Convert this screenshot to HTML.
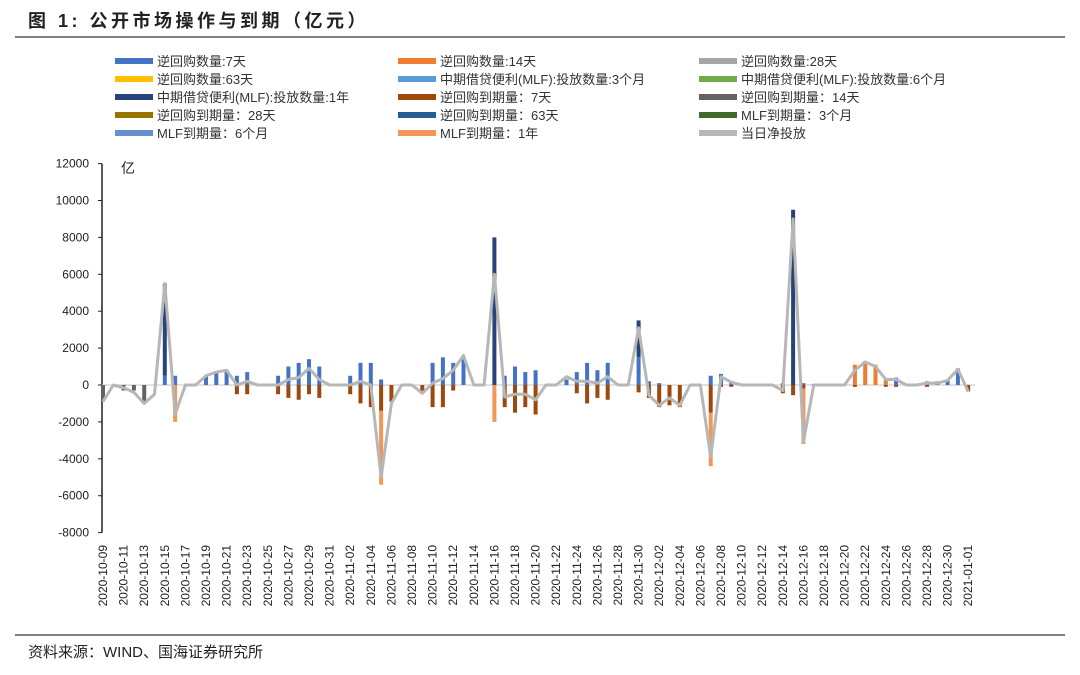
<!DOCTYPE html>
<html><head><meta charset="utf-8"><style>
body{margin:0;background:#fff;}
svg text{font-family:"Liberation Sans","Noto Sans CJK SC",sans-serif;}
</style></head><body>
<svg id="c" width="1080" height="670" xmlns="http://www.w3.org/2000/svg">
<text x="28" y="27" font-size="18" font-weight="bold" fill="#222" letter-spacing="3.5">图 1: 公开市场操作与到期（亿元）</text>
<line x1="15" y1="37" x2="1065" y2="37" stroke="#555" stroke-width="1.5"/>
<line x1="15" y1="635" x2="1065" y2="635" stroke="#555" stroke-width="1.5"/>
<text x="28" y="657" font-size="15" fill="#222">资料来源：WIND、国海证券研究所</text>
<g id="legend"></g>
<g id="axes"></g>
<g id="bars"></g>
<g id="line"></g>
</svg>
<script>
const dates=[];(function(){let d=new Date(Date.UTC(2020,9,9));for(let i=0;i<85;i++){dates.push(d.toISOString().slice(0,10));d.setUTCDate(d.getUTCDate()+1);}})();
const yTicks=[12000,10000,8000,6000,4000,2000,0,-2000,-4000,-6000,-8000];
const inject7=[0,0,0,0,0,0,500,500,0,0,500,650,800,500,700,0,0,500,1000,1200,1400,1000,0,0,500,1200,1200,300,0,0,0,0,1200,1500,1200,1500,0,0,0,500,1000,700,800,0,0,300,700,1200,800,1200,0,0,1500,200,100,0,0,0,0,500,600,150,50,0,0,0,100,0,100,50,50,0,0,0,0,0,0,400,0,0,200,200,300,900,0];
const inject14=[0,0,0,0,0,0,0,0,0,0,0,0,0,0,0,0,0,0,0,0,0,0,0,0,0,0,0,0,0,0,0,0,0,0,0,0,0,0,0,0,0,0,0,0,0,0,0,0,0,0,0,0,0,0,0,0,0,0,0,0,0,0,0,0,0,0,0,0,0,0,0,0,0,1100,1300,1100,300,0,0,0,0,0,0,0,0];
const mlf1y=[0,0,0,0,0,0,5000,0,0,0,0,0,0,0,0,0,0,0,0,0,0,0,0,0,0,0,0,0,0,0,0,0,0,0,0,0,0,0,8000,0,0,0,0,0,0,0,0,0,0,0,0,0,2000,0,0,0,0,0,0,0,0,0,0,0,0,0,0,9500,0,0,0,0,0,0,0,0,0,0,0,0,0,0,0,0,0];
const mature7=[0,0,0,0,0,0,0,0,0,0,0,0,0,-500,-500,0,0,-500,-700,-800,-500,-700,0,0,-500,-1000,-1200,-1400,-900,0,0,-400,-1200,-1200,-300,0,0,0,0,-1200,-1500,-1200,-1600,0,0,0,-450,-1000,-700,-800,0,0,-400,-700,-1200,-1100,-1200,0,0,-1500,-100,-100,-50,0,0,0,-450,-550,-200,0,0,0,0,-100,0,0,-100,-100,0,0,-100,0,0,0,-350];
const mature14=[-900,0,-300,-300,-900,0,0,0,0,0,0,0,0,0,0,0,0,0,0,0,0,0,0,0,0,0,0,0,0,0,0,0,0,0,0,0,0,0,0,0,0,0,0,0,0,0,0,0,0,0,0,0,0,0,0,0,0,0,0,0,0,0,0,0,0,0,0,0,0,0,0,0,0,0,0,0,0,0,0,0,0,0,0,0,0];
const mlfMat1y=[0,0,0,0,0,0,0,-2000,0,0,0,0,0,0,0,0,0,0,0,0,0,0,0,0,0,0,0,-4000,0,0,0,0,0,0,0,0,0,0,-2000,0,0,0,0,0,0,0,0,0,0,0,0,0,0,0,0,0,0,0,0,-2900,0,0,0,0,0,0,0,0,-3000,0,0,0,0,0,0,0,0,0,0,0,0,0,0,0,0];
const netLine=[-900,0,-150,-400,-1000,-500,5500,-1600,0,0,500,700,800,0,200,0,0,0,300,400,900,300,0,0,0,200,0,-5000,-1000,0,0,-450,100,350,800,1600,0,0,6000,-650,-500,-500,-800,0,0,450,200,200,100,450,0,0,3100,-550,-1100,-700,-1100,0,0,-3900,450,150,0,0,0,0,-300,9000,-3100,0,0,0,0,800,1250,1000,300,300,0,0,100,100,250,850,-350];
const NS="http://www.w3.org/2000/svg";
const svg=document.getElementById('c');
function el(t,a,p){const e=document.createElementNS(NS,t);for(const k in a)e.setAttribute(k,a[k]);p.appendChild(e);return e;}
const x0=103,dx=10.3,yZero=385,ppu=369/20000;
const X=i=>x0+dx*i, Y=v=>yZero-v*ppu;
const legItems=[["逆回购数量:7天","#4472C4"],["逆回购数量:14天","#ED7D31"],["逆回购数量:28天","#A5A5A5"],["逆回购数量:63天","#FFC000"],["中期借贷便利(MLF):投放数量:3个月","#5B9BD5"],["中期借贷便利(MLF):投放数量:6个月","#70AD47"],["中期借贷便利(MLF):投放数量:1年","#264478"],["逆回购到期量：7天","#9E480E"],["逆回购到期量：14天","#636363"],["逆回购到期量：28天","#997300"],["逆回购到期量：63天","#255E91"],["MLF到期量：3个月","#43682B"],["MLF到期量：6个月","#698ED0"],["MLF到期量：1年","#F1975A"],["当日净投放","#B7B7B7"]];
const lg=document.getElementById('legend');const colX=[115,398,699];
legItems.forEach((it,k)=>{const c=k%3,r=Math.floor(k/3);const y=61+r*18;
 const s=el('rect',{x:colX[c],y:y-3,width:38,height:6,fill:it[1]},lg);
 
 const t=el('text',{x:colX[c]+42,y:y+5,'font-size':13,fill:'#333'},lg);t.textContent=it[0];
 });
const ax=document.getElementById('axes');
const yl=el('line',{x1:102,y1:Y(12000),x2:102,y2:Y(-8000),stroke:'#222','stroke-width':1.5},ax);

yTicks.forEach(v=>{const t=el('text',{x:89,y:Y(v)+4,'font-size':12,'text-anchor':'end',fill:'#222'},ax);t.textContent=v;
 
 el('line',{x1:98,y1:Y(v),x2:102,y2:Y(v),stroke:'#222'},ax);});
const yt=el('text',{x:121,y:173,'font-size':14,fill:'#222'},ax);yt.textContent='亿';

const xl=el('line',{x1:102,y1:yZero,x2:975,y2:yZero,stroke:'#d9d9d9','stroke-width':1.5},ax);

dates.forEach((d,i)=>{if(i%2)return;const t=el('text',{x:0,y:0,'font-size':12,'text-anchor':'end',fill:'#222',transform:`translate(${X(i)+4},545) rotate(-90)`},ax);t.textContent=d;
 });
const bg=document.getElementById('bars');
const pos=[[inject7,"#4472C4"],[inject14,"#ED7D31"],[mlf1y,"#264478"]];
const neg=[[mature7,"#9E480E"],[mature14,"#636363"],[mlfMat1y,"#F1975A"]];
dates.forEach((d,i)=>{let up=0,dn=0;
 pos.forEach(s=>{const v=s[0][i];if(v>0){const r=el('rect',{x:X(i)-2,y:Y(up+v),width:4,height:v*ppu,fill:s[1]},bg);up+=v;}});
 neg.forEach(s=>{const v=s[0][i];if(v<0){const r=el('rect',{x:X(i)-2,y:Y(dn),width:4,height:-v*ppu,fill:s[1]},bg);dn+=v;}});});
const lp=el('polyline',{points:netLine.map((v,i)=>X(i)+','+Y(v)).join(' '),fill:'none',stroke:'#B7B7B7','stroke-width':3,'stroke-linejoin':'round'},document.getElementById('line'));

</script>
</body></html>
